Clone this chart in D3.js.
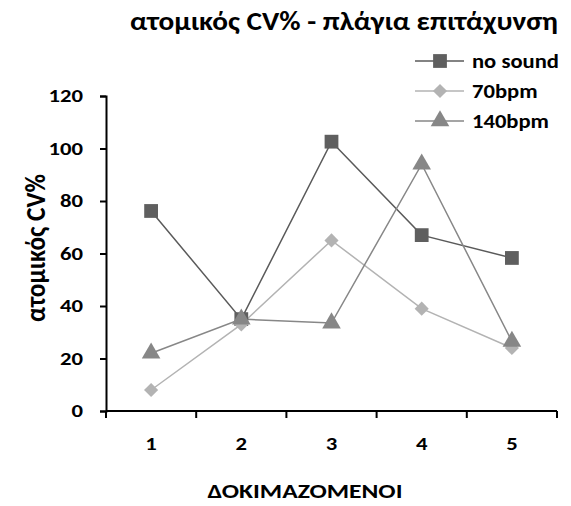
<!DOCTYPE html>
<html>
<head>
<meta charset="utf-8">
<script src="https://cdn.jsdelivr.net/npm/d3@7"></script>
<style>
  body { margin: 0; background: #fff; }
  text { font-family: Carlito, Lato, "Open Sans", sans-serif; font-weight: bold; fill: #000; }
</style>
</head>
<body>
<svg id="chart" width="571" height="506"></svg>
<script>
const categories = ["1", "2", "3", "4", "5"];
const noSound = [76.2, 35, 102.6, 67, 58.3];
const bpm70 = [8, 33, 65, 39, 24];
const bpm140 = [22, 35, 33.5, 94, 26.5];
const yTicks = [0, 20, 40, 60, 80, 100, 120];

const series = [
  { name: "no sound", values: noSound, color: "#5f5f5f", line: "#5a5a5a", symbol: d3.symbolSquare, size: 190, rot: 0 },
  { name: "70bpm", values: bpm70, color: "#b3b3b3", line: "#b3b3b3", symbol: d3.symbolSquare, size: 100, rot: 45 },
  { name: "140bpm", values: bpm140, color: "#878787", line: "#878787", symbol: d3.symbolTriangle, size: 150, rot: 0 }
];

const svg = d3.select("#chart");
const margin = { left: 106, right: 14, top: 96, bottom: 95 };
const W = 571, H = 506;

const x = d3.scaleBand().domain(categories).range([margin.left, W - margin.right]);
const y = d3.scaleLinear().domain([0, 120]).range([H - margin.bottom, margin.top]);

// the labels use a wide, short face: each text is scaled horizontally to its set width
function measure(str, size) {
  const t = svg.append("text").style("font-size", size + "px").text(str);
  const w = t.node().getBBox().width;
  t.remove();
  return w;
}
function label(g, str, px, py, size, sx, anchor, rotate) {
  const tr = rotate ? `translate(${px},${py}) rotate(-90) scale(1,${sx})`
                    : `translate(${px},${py}) scale(${sx},1)`;
  return g.append("text").attr("transform", tr).attr("text-anchor", anchor)
    .style("font-size", size + "px").text(str);
}

const tickSize = 17, tickSx = 35 / measure("120", tickSize);

// title
const titleStr = "ατομικός CV% - πλάγια επιτάχυνση";
label(svg, titleStr, 344, 30, 26, 428 / measure(titleStr, 26), "middle");

// y axis
const yAxis = svg.append("g").attr("transform", `translate(${margin.left},0)`)
  .call(d3.axisLeft(y).tickValues(yTicks).tickSize(6).tickFormat(""));
yAxis.selectAll("path,line").attr("stroke", "#000").attr("stroke-width", 2);
yTicks.forEach(v => label(svg, String(v), 83, y(v) + 6, tickSize, tickSx, "end"));

// x axis with ticks on the category boundaries
const xAxisG = svg.append("g").attr("transform", `translate(0,${y(0)})`);
xAxisG.append("line").attr("x1", margin.left).attr("x2", W - margin.right)
  .attr("stroke", "#000").attr("stroke-width", 2);
const bounds = categories.map(c => x(c)).concat([x(categories[categories.length - 1]) + x.bandwidth()]);
xAxisG.selectAll("line.tk").data(bounds).join("line").attr("class", "tk")
  .attr("x1", d => d).attr("x2", d => d).attr("y1", 0).attr("y2", 7)
  .attr("stroke", "#000").attr("stroke-width", 2);
categories.forEach(c => label(svg, c, x(c) + x.bandwidth() / 2, y(0) + 39, tickSize, tickSx, "middle"));

// axis titles
const xTitle = "ΔΟΚΙΜΑΖΟΜΕΝΟΙ";
label(svg, xTitle, 305, 498, 21, 195 / measure(xTitle, 21), "middle");
const yTitle = "ατομικός CV%";
label(svg, yTitle, 45, 248, 26 * 148 / measure(yTitle, 26), 1.15, "middle", true);

const cx = i => x(categories[i]) + x.bandwidth() / 2;
const line = d3.line().x((d, i) => cx(i)).y(d => y(d));

series.forEach(s => {
  svg.append("path").datum(s.values).attr("d", line)
    .attr("fill", "none").attr("stroke", s.line).attr("stroke-width", 1.5);
});
series.forEach(s => {
  svg.selectAll(null).data(s.values).join("path")
    .attr("transform", (d, i) => `translate(${cx(i)},${y(d)}) rotate(${s.rot})`)
    .attr("d", d3.symbol().type(s.symbol).size(s.size))
    .attr("fill", s.color);
});

// legend
const legSize = 20, legSx = 87 / measure("no sound", legSize);
const lg = svg.append("g");
series.forEach((s, i) => {
  const yy = 61 + i * 30;
  lg.append("line").attr("x1", 415).attr("x2", 464).attr("y1", yy).attr("y2", yy)
    .attr("stroke", s.line).attr("stroke-width", 1.5);
  lg.append("path").attr("transform", `translate(440,${yy}) rotate(${s.rot})`)
    .attr("d", d3.symbol().type(s.symbol).size(s.size)).attr("fill", s.color);
  label(lg, s.name, 472, yy + 7, legSize, legSx, "start");
});
</script>
</body>
</html>
